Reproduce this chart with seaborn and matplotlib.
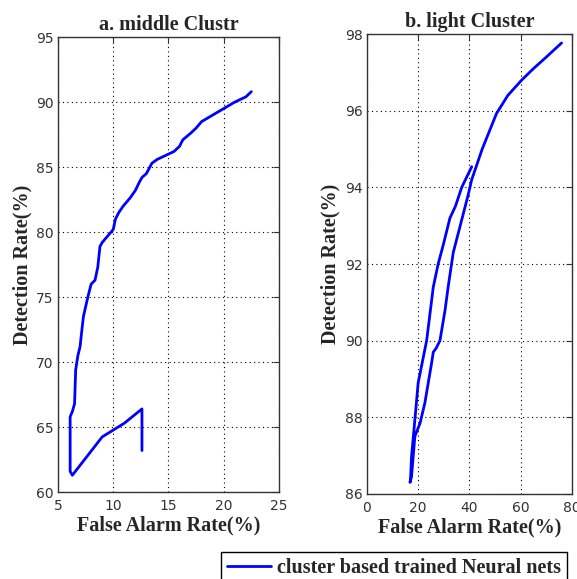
import numpy as np
import pandas as pd
import seaborn as sns
import matplotlib
matplotlib.use('Agg')
import matplotlib.pyplot as plt

# a. middle cluster curve (false alarm %, detection %), in drawing order
mid_far = [12.6, 12.6, 11.0, 9.0, 6.3, 6.1, 6.1, 6.1, 6.3, 6.5, 6.6, 6.8, 7.0, 7.1,
           7.3, 7.7, 8.0, 8.35, 8.6, 8.8, 9.0, 9.5, 10.0, 10.2, 10.5, 10.9, 11.5,
           12.0, 12.4, 12.6, 13.0, 13.5, 14.0, 15.0, 15.5, 16.0, 16.3, 17.0, 17.5,
           18.0, 19.0, 20.0, 21.0, 22.0, 22.5]
mid_dr = [63.2, 66.4, 65.3, 64.25, 61.3, 61.6, 63.5, 65.8, 66.2, 66.8, 69.4, 70.5, 71.2, 72.0,
          73.5, 75.0, 76.0, 76.3, 77.3, 78.9, 79.2, 79.7, 80.2, 81.0, 81.5, 82.0, 82.6,
          83.2, 83.9, 84.2, 84.5, 85.3, 85.6, 86.0, 86.2, 86.6, 87.1, 87.6, 88.0,
          88.5, 89.0, 89.5, 90.0, 90.4, 90.8]

# b. light cluster curve
light_far = [40.9, 37.0, 34.5, 32.4, 29.8, 27.8, 25.9, 23.3, 21.5, 20.0, 18.7, 17.4, 17.0,
             16.8, 17.4, 18.7, 20.7, 22.6, 25.2, 25.9, 27.0, 28.5, 30.5, 31.7, 33.7, 36.3,
             39.5, 40.9, 45.0, 50.6, 55.0, 60.4, 65.0, 70.0, 76.0]
light_dr = [94.54, 94.0, 93.5, 93.2, 92.5, 92.0, 91.4, 90.0, 89.4, 88.9, 87.93, 86.97, 86.36,
            86.3, 86.45, 87.5, 87.84, 88.37, 89.4, 89.7, 89.8, 90.0, 90.8, 91.4, 92.3, 92.97,
            93.8, 94.2, 95.0, 95.93, 96.4, 96.8, 97.1, 97.4, 97.77]

legend_label = 'cluster based trained Neural nets'

sns.set_style('white')
plt.rcParams['font.family'] = 'DejaVu Sans'

df_mid = pd.DataFrame({'far': mid_far, 'dr': mid_dr})
df_light = pd.DataFrame({'far': light_far, 'dr': light_dr})

fig = plt.figure(figsize=(5.77, 5.79), dpi=100)
ax1 = fig.add_axes([0.1005, 0.150, 0.383, 0.786])
ax2 = fig.add_axes([0.636, 0.147, 0.355, 0.794])

label_font = dict(family='Liberation Serif', weight='bold', size=14.5)

sns.lineplot(data=df_mid, x='far', y='dr', sort=False, estimator=None, ax=ax1,
             color='#0000ff', linewidth=2, label=legend_label)
sns.lineplot(data=df_light, x='far', y='dr', sort=False, estimator=None, ax=ax2,
             color='#0000ff', linewidth=2)

setups = [(ax1, (5, 25), np.arange(5, 26, 5), (60, 95), np.arange(60, 96, 5), 'a. middle Clustr'),
          (ax2, (0, 80), np.arange(0, 81, 20), (86, 98), np.arange(86, 99, 2), 'b. light Cluster')]
for ax, xl, xt, yl, yt, title in setups:
    ax.set_xlim(xl)
    ax.set_ylim(yl)
    ax.set_xticks(xt)
    ax.set_yticks(yt)
    ax.grid(True, color='black', linestyle=(0, (1, 3)), linewidth=0.8)
    ax.tick_params(direction='in', length=4, top=True, right=True, labelsize=10,
                   colors='#333333', pad=3)
    ax.tick_params(axis='x', pad=5)
    for s in ax.spines.values():
        s.set_color('#333333')
        s.set_linewidth(1)
    ax.set_title(title, fontdict=label_font, pad=5)
    ax.set_xlabel('False Alarm Rate(%)', fontdict=label_font, labelpad=2)
    ax.set_ylabel('Detection Rate(%)', fontdict=label_font, labelpad=3)

handles, labels = ax1.get_legend_handles_labels()
ax1.get_legend().remove()
leg = fig.legend(handles, labels, loc='upper left', bbox_to_anchor=(221 / 577, 1 - 552 / 579),
                 prop=dict(family='Liberation Serif', weight='bold', size=14.5),
                 fancybox=False, edgecolor='black', framealpha=1, handlelength=2.2,
                 borderpad=0.3, handletextpad=0.3, borderaxespad=0)
leg.get_frame().set_linewidth(1)

fig.savefig('out.png', dpi=100)
